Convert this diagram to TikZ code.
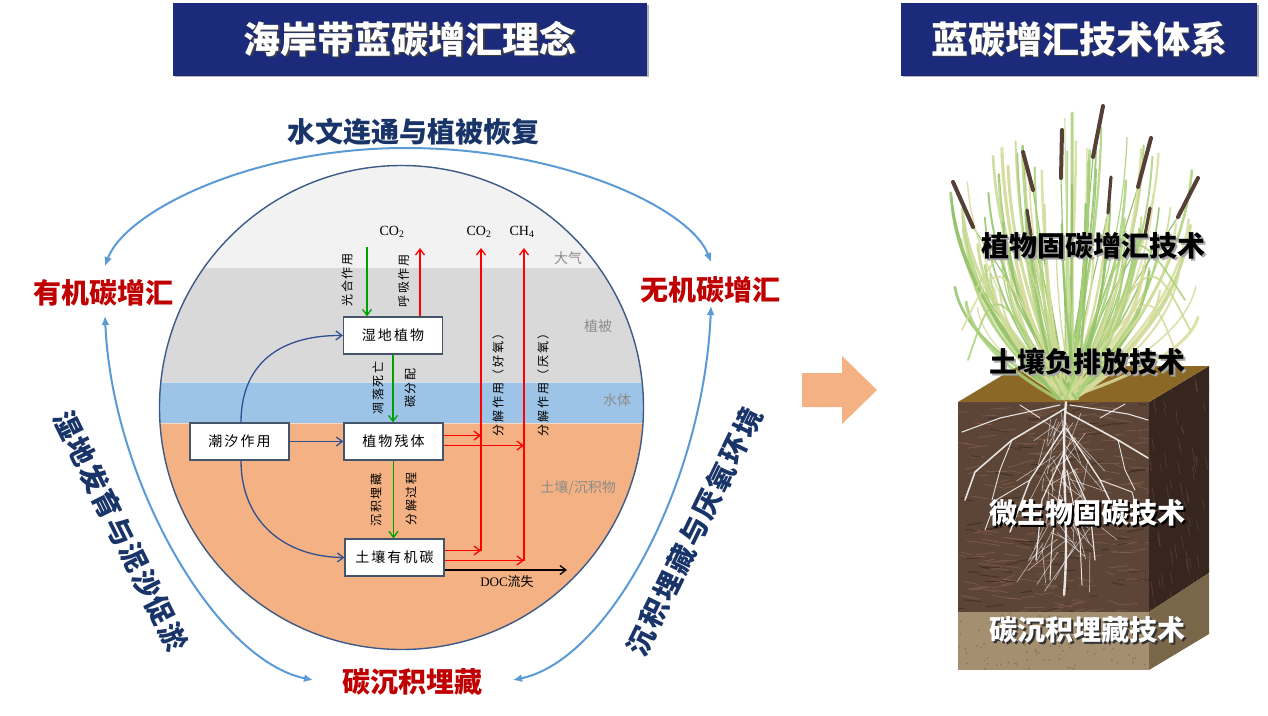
\documentclass[tikz,border=0pt]{standalone}
\usepackage{fontspec}
\setmainfont{Liberation Serif}
\newfontfamily\cjk{Noto Sans CJK SC}
\newfontfamily\cjksp{Noto Sans CJK SC}[LetterSpace=15]
\usetikzlibrary{arrows.meta}
\definecolor{hdr}{RGB}{28,42,124}
\definecolor{navy}{RGB}{24,52,104}
\definecolor{dred}{RGB}{192,0,0}
\definecolor{arcblue}{RGB}{91,155,213}
\definecolor{cedge}{RGB}{60,90,135}
\definecolor{atm}{RGB}{242,242,242}
\definecolor{veg}{RGB}{217,217,217}
\definecolor{water}{RGB}{157,195,230}
\definecolor{soil}{RGB}{244,177,131}
\definecolor{boxedge}{RGB}{68,84,106}
\definecolor{tide}{RGB}{47,80,145}
\definecolor{ggreen}{RGB}{0,160,0}
\definecolor{rred}{RGB}{255,0,0}
\definecolor{laygray}{RGB}{140,140,140}
\definecolor{oarr}{RGB}{244,177,131}
\definecolor{grass0}{RGB}{170,208,120}
\definecolor{grass1}{RGB}{218,220,158}
\definecolor{grass2}{RGB}{145,194,105}
\definecolor{grass3}{RGB}{200,218,145}
\definecolor{seed}{RGB}{84,64,54}
\definecolor{topsoil}{RGB}{140,104,38}
\definecolor{frontsoil}{RGB}{92,68,54}
\definecolor{sidesoil}{RGB}{54,38,31}
\definecolor{sedfront}{RGB}{164,144,112}
\definecolor{sedside}{RGB}{122,102,72}
\tikzset{
  hdrbox/.style={fill=hdr, minimum height=73pt, inner sep=0pt},
  hdrtxt/.style={text=white, font=\cjk\bfseries\fontsize{37}{37}\selectfont, inner sep=0pt},
  hdrshd/.style={text=black!75, font=\cjk\bfseries\fontsize{37}{37}\selectfont, inner sep=0pt},
  redlbl/.style={text=dred, font=\cjk\bfseries\fontsize{28}{28}\selectfont, inner sep=0pt},
  navylbl/.style={text=navy, font=\cjk\bfseries\fontsize{28}{28}\selectfont, inner sep=0pt},
  cbox/.style={draw=boxedge, line width=1.2pt, fill=white, minimum width=99pt, minimum height=37pt, inner sep=0pt, font=\cjksp\fontsize{14}{14}\selectfont},
  vlbl/.style={rotate=90, inner sep=0pt, font=\cjksp\fontsize{12}{12}\selectfont},
  layer/.style={text=laygray, inner sep=0pt, font=\cjk\fontsize{14}{14}\selectfont},
  chem/.style={inner sep=0pt, font=\fontsize{14}{14}\selectfont},
  garr/.style={draw=ggreen, line width=1.3pt, -{Straight Barb[length=6pt,width=9pt]}},
  rarr/.style={draw=rred, line width=1.3pt, -{Straight Barb[length=6pt,width=9pt]}},
  karr/.style={draw=black, line width=1.3pt, -{Straight Barb[length=6pt,width=9pt]}},
  tarr/.style={draw=tide, line width=1.3pt, -{Straight Barb[length=6pt,width=9pt]}},
  barc/.style={draw=arcblue, line width=2pt, {Latex[length=9pt,width=8pt]}-{Latex[length=9pt,width=8pt]}},
  techk/.style={inner sep=0pt, font=\cjk\bfseries\fontsize{28}{28}\selectfont},
  blade/.style={line cap=round},
  spike/.style={draw=seed, line width=4pt, line cap=round},
  root/.style={draw=white, opacity=0.85, line cap=round},
}
\begin{document}
\begin{tikzpicture}[x=1pt,y=-1pt]
\useasboundingbox (0,0) rectangle (1268,715);
\fill[white] (0,0) rectangle (1268,715);

% ---------- headers ----------
\fill[black!30] (175,5) rectangle (649,77);
\node[hdrbox, minimum width=474pt] (h1) at (410,39) {};
\node[hdrshd] (t1s) at (411.5,40.5) {海岸带蓝碳增汇理念};
\node[hdrtxt] (t1) at (410,39) {海岸带蓝碳增汇理念};
\fill[black!30] (903,5) rectangle (1259,77);
\node[hdrbox, minimum width=356pt] (h2) at (1079,39) {};
\node[hdrshd] (t2s) at (1080.5,40.5) {蓝碳增汇技术体系};
\node[hdrtxt] (t2) at (1079,39) {蓝碳增汇技术体系};

% ---------- circle ----------
\coordinate (cc) at (401.5,407.5);
\begin{scope}
\clip (cc) circle[radius=242pt];
\fill[atm] (150,160) rectangle (650,268);
\fill[veg] (150,268) rectangle (650,382);
\fill[water] (150,382) rectangle (650,423);
\fill[soil] (150,423) rectangle (650,660);
\draw[white, opacity=0.5, line width=1pt] (150,382) -- (650,382);
\draw[white, opacity=0.5, line width=1pt] (150,423) -- (650,423);
\end{scope}
\draw[cedge, line width=1.4pt] (cc) circle[radius=242pt];

% layer labels
\node[layer] (la) at (568,258) {大气};
\node[layer] (lb) at (598,326) {植被};
\node[layer] (lc) at (617,400) {水体};
\node[layer] (ld) at (578,488) {土壤/沉积物};

% boxes
\node[cbox] (wet) at (393,335.5) {湿地植物};
\node[cbox] (res) at (393.5,441.5) {植物残体};
\node[cbox] (tide) at (239.5,441.5) {潮汐作用};
\node[cbox] (som) at (394.5,557.5) {土壤有机碳};

% gas labels
\node[chem] (lco2a) at (392,232) {CO\textsubscript{2}};
\node[chem] (lco2b) at (479,232) {CO\textsubscript{2}};
\node[chem] (lch4) at (522,232) {CH\textsubscript{4}};

% photosynthesis / respiration
\coordinate (ps) at (367,247);
\draw[garr] (ps) -- (ps |- wet.north);
\coordinate (rs) at (420,248);
\draw[rarr] (rs |- wet.north) -- (rs);

% green vertical flows
\draw[garr] (wet.south) -- (wet.south |- res.north);
\draw[garr] (res.south) -- (res.south |- som.north);

% red decomposition
\coordinate (v1t) at (481,248);
\coordinate (v2t) at (524,248);
\coordinate (r1) at ([yshift=6pt]res.east);
\coordinate (r2) at ([yshift=-4pt]res.east);
\coordinate (s1) at ([yshift=7pt]som.east);
\coordinate (s2) at ([yshift=-3pt]som.east);
\coordinate (s3) at ([yshift=-12.5pt]som.east);
\draw[rarr] (s1 -| v1t) -- (v1t);
\draw[rarr] (s2 -| v2t) -- (v2t);
\draw[rarr] (r1) -- (r1 -| v1t);
\draw[rarr] (r2) -- (r2 -| v2t);
\draw[rarr] (s1) -- (s1 -| v1t);
\draw[rarr] (s2) -- (s2 -| v2t);
\coordinate (docend) at (567,570);
\draw[karr] (s3) -- (s3 -| docend);
\node[chem, font=\fontsize{13}{13}\selectfont] (doc) at (507,582) {DOC{\cjk 流失}};

% tide arrows
\draw[tarr] ([xshift=1.5pt]tide.north) .. controls (241,362) and (282,335) .. (wet.west);
\draw[tarr] (tide.east) -- (res.west);
\draw[tarr] ([xshift=1.5pt]tide.south) .. controls (241,522) and (285,557) .. (som.west);

% vertical labels
\node[vlbl] (l1) at (347,280) {光合作用};
\node[vlbl] (l2) at (403.5,281) {呼吸作用};
\node[vlbl] (l3) at (378,388) {凋落死亡};
\node[vlbl] (l4) at (410,388) {碳分配};
\node[vlbl] (l5) at (376,500) {沉积埋藏};
\node[vlbl] (l6) at (411,499) {分解过程};
\node[vlbl] (l7) at (498,382) {分解作用（好氧）};
\node[vlbl] (l8) at (543,382) {分解作用（厌氧）};

% ---------- outer labels and arcs ----------
\node[navylbl] (hyd) at (413,132) {水文连通与植被恢复};
\node[redlbl] (org) at (103,293) {有机碳增汇};
\node[redlbl] (inorg) at (710,290) {无机碳增汇};
\node[redlbl] (sed) at (412,682) {碳沉积埋藏};
\foreach \ch [count=\i] in {湿,地,发,育,与,泥,沙,促,淤}{
  \node[navylbl, rotate=-63.6] (wd\i) at ({68+(\i-1)*13.125},{425+(\i-1)*26.5}) {\ch};
}
\foreach \ch [count=\i] in {沉,积,埋,藏,与,厌,氧,环,境}{
  \node[navylbl, rotate=64] (se\i) at ({641+(\i-1)*13.375},{641-(\i-1)*27.375}) {\ch};
}

\coordinate (aTL) at (105,266);
\coordinate (aTR) at (711,262);
\coordinate (aTop) at (406,148);
\coordinate (aLU) at (105,316);
\coordinate (aLB) at (313,680);
\coordinate (aRU) at (711,306);
\coordinate (aRB) at (513,680);
\draw[barc] (aTL) .. controls (125,212) and (250,148) .. (aTop) .. controls (562,148) and (690,208) .. (aTR);
\draw[barc] (aLU) .. controls (112,480) and (215,660) .. (aLB);
\draw[barc] (aRU) .. controls (704,480) and (610,660) .. (aRB);

% ---------- big orange arrow ----------
\fill[oarr] (802,373) -- (842,373) -- (842,356) -- (877,390) -- (842,424) -- (842,407) -- (802,407) -- cycle;

% ---------- soil cube ----------
\fill[frontsoil] (958,402) rectangle (1149,670);
\fill[sidesoil] (1149,402) -- (1209,366) -- (1209,573) -- (1149,612) -- cycle;
\pgfmathsetseed{7}
\begin{scope}
\clip (958,402) rectangle (1149,612);
\foreach \i in {1,...,220}{
  \pgfmathsetmacro{\px}{955+rnd*195}
  \pgfmathsetmacro{\py}{402+rnd*212}
  \pgfmathsetmacro{\dx}{8+rnd*16}
  \pgfmathsetmacro{\dy}{rnd*8-4}
  \draw[draw={rgb,255:red,145;green,105;blue,85}, opacity=0.5, line width=0.9pt] (\px,\py) -- ++(\dx,\dy);
}
\foreach \i in {1,...,80}{
  \pgfmathsetmacro{\px}{955+rnd*195}
  \pgfmathsetmacro{\py}{402+rnd*212}
  \pgfmathsetmacro{\dx}{6+rnd*14}
  \pgfmathsetmacro{\dy}{rnd*8-4}
  \draw[draw={rgb,255:red,55;green,38;blue,30}, opacity=0.6, line width=1pt] (\px,\py) -- ++(\dx,\dy);
}
\end{scope}
\begin{scope}
\clip (1149,402) -- (1209,366) -- (1209,573) -- (1149,612) -- cycle;
\foreach \i in {1,...,70}{
  \pgfmathsetmacro{\px}{1149+rnd*60}
  \pgfmathsetmacro{\py}{366+rnd*246}
  \pgfmathsetmacro{\dy}{6+rnd*10}
  \draw[draw={rgb,255:red,100;green,72;blue,58}, opacity=0.6, line width=0.8pt] (\px,\py) -- ++(2,\dy);
}
\end{scope}
\fill[sedfront] (958,612) rectangle (1149,670);
\fill[sedside] (1149,612) -- (1209,573) -- (1209,634) -- (1149,670) -- cycle;
\begin{scope}
\clip (958,612) rectangle (1149,670);
\foreach \i in {1,...,90}{
  \pgfmathsetmacro{\px}{958+rnd*191}
  \pgfmathsetmacro{\py}{612+rnd*58}
  \fill[black!40!sedfront, opacity=0.5] (\px,\py) circle[radius=0.9pt];
}
\end{scope}
\fill[topsoil] (958,402) -- (1149,402) -- (1209,366) -- (1018,366) -- cycle;

% roots
\draw[root, line width=2.4pt] (1066,402) .. controls (1060,470) and (1070,520) .. (1064,595);
\draw[root, line width=1.6pt] (1066,408) -- (1012,440) -- (975,472) -- (965,500);
\draw[root, line width=1.6pt] (1066,412) -- (1118,440) -- (1148,458);
\draw[root, line width=1.4pt] (1064,428) -- (1030,480) -- (1010,532);
\draw[root, line width=1.4pt] (1066,428) -- (1100,480) -- (1120,522);
\draw[root, line width=1.2pt] (1065,450) -- (1042,500) -- (1036,560);
\draw[root, line width=1.2pt] (1066,455) -- (1090,510) -- (1095,560);
\draw[root, line width=1pt] (1063,470) -- (1052,540) -- (1050,580);
\draw[root, line width=1pt] (1067,470) -- (1080,540) -- (1082,585);
\draw[root, line width=1.1pt] (1060,405) -- (1000,418) -- (962,432);
\draw[root, line width=1.1pt] (1070,405) -- (1128,414) -- (1148,420);
\draw[root, line width=0.9pt] (1030,480) -- (996,500) -- (985,530);
\draw[root, line width=0.9pt] (1100,480) -- (1132,492) -- (1140,520);
\draw[root, line width=0.9pt] (1012,440) -- (1000,470) -- (992,500);
\draw[root, line width=0.9pt] (1118,440) -- (1125,470) -- (1135,490);
\draw[root, line width=0.9pt] (1040,418) -- (1020,405);
\draw[root, line width=0.9pt] (1100,418) -- (1125,404);
\foreach \i in {1,...,60}{
  \pgfmathsetmacro{\sy}{410+rnd*150}
  \pgfmathsetmacro{\sx}{1040+rnd*50}
  \pgfmathsetmacro{\dx}{(rnd-0.5)*80}
  \pgfmathsetmacro{\dy}{10+rnd*35}
  \draw[draw=white, opacity=0.55, line width=0.7pt, line cap=round] (\sx,\sy) -- ++(\dx,\dy);
}

% grass stems for seed heads
\foreach \ex/\ey in {973/227, 1033/190, 1061/178, 1093/157, 1138/187, 1178/217, 1108/213, 1031/235, 1145/235}{
  \draw[grass2, line width=1.1pt] (1068,398) .. controls ({(1068+\ex)/2},300) .. (\ex,\ey);
}
% grass blades: a fan radiating from the base
\pgfmathsetseed{11}
\foreach \i in {1,...,100}{
  \pgfmathsetmacro{\bx}{1058+rnd*20}
  \pgfmathsetmacro{\ex}{950+rnd*252}
  \pgfmathsetmacro{\dd}{abs(\ex-1076)}
  \pgfmathsetmacro{\ey}{110+rnd*150+\dd*0.5}
  \pgfmathsetmacro{\cax}{\bx+(\ex-\bx)*0.62}
  \pgfmathsetmacro{\cay}{399+(\ey-399)*0.33}
  \pgfmathsetmacro{\cbx}{\bx+(\ex-\bx)*0.95}
  \pgfmathsetmacro{\cby}{399+(\ey-399)*0.68}
  \pgfmathsetmacro{\lw}{1.2+rnd*1.9}
  \pgfmathtruncatemacro{\k}{mod(\i,4)}
  \draw[grass\k, line width=\lw pt, blade, opacity=0.85] (\bx,399) .. controls (\cax,\cay) and (\cbx,\cby) .. (\ex,\ey);
}
% a few arching leaves
\foreach \ax/\ay/\ex/\ey/\k in {1000/250/962/330/1, 995/280/968/360/0, 1150/250/1190/330/3, 1150/280/1180/365/1, 1020/220/975/290/3, 1130/215/1185/300/0}{
  \draw[grass\k, line width=1.8pt, blade, opacity=0.85] (1066,399) .. controls (\ax,\ay) .. (\ex,\ey);
}
% seed heads
\draw[spike] (953,182) -- (973,227);
\draw[spike] (1023,152) -- (1033,190);
\draw[spike] (1062,130) -- (1061,178);
\draw[spike] (1103,106) -- (1093,157);
\draw[spike] (1151,138) -- (1138,187);
\draw[spike] (1198,178) -- (1178,217);
\draw[spike, line width=3.2pt] (1111,177) -- (1108,213);
\draw[spike, line width=3.2pt] (1027,210) -- (1031,235);
\draw[spike, line width=3.2pt] (1150,208) -- (1145,235);

% technology labels
\node[techk, text=black!35] (k1s) at (1095,248) {植物固碳增汇技术};
\node[techk] (k1) at (1093,246) {植物固碳增汇技术};
\node[techk, text=black!35] (k2s) at (1089,364) {土壤负排放技术};
\node[techk] (k2) at (1087,362) {土壤负排放技术};
\node[techk, text=black] (k3s) at (1089,515) {微生物固碳技术};
\node[techk, text=white] (k3) at (1087,513) {微生物固碳技术};
\node[techk, text=black!80] (k4s) at (1089,632) {碳沉积埋藏技术};
\node[techk, text=white] (k4) at (1087,630) {碳沉积埋藏技术};
\end{tikzpicture}
\end{document}
